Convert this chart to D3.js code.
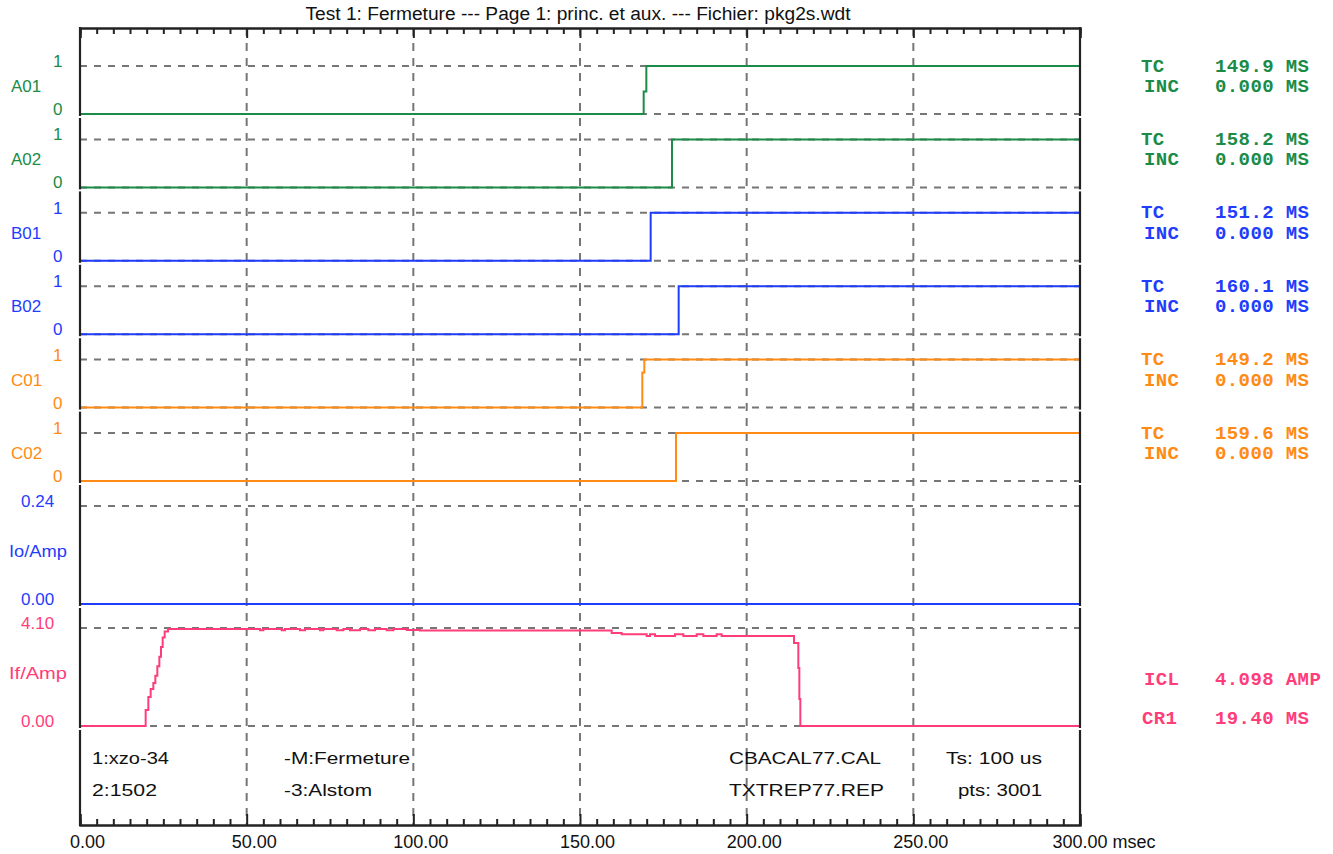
<!DOCTYPE html>
<html><head><meta charset="utf-8">
<script src="https://cdn.jsdelivr.net/npm/d3@7"></script>
<style>body{margin:0;background:#fff;} svg{display:block;}</style>
</head><body>
<svg id="chart" width="1333" height="854"></svg>
<script>
// ---------- data ----------
const titleText = "Test 1: Fermeture --- Page 1: princ. et aux. --- Fichier: pkg2s.wdt";
const xDomain = [0, 300];
const xMajorTicks = [0, 50, 100, 150, 200, 250, 300];
const xTickLabels = ["0.00", "50.00", "100.00", "150.00", "200.00", "250.00", "300.00 msec"];

const digitalNames = ["A01", "A02", "B01", "B02", "C01", "C02"];
const digitalLevelLabels = ["0", "1"];
const digitalTimes = [
  [0, 169.1, 169.9, 300],
  [0, 177.6, 300],
  [0, 171.2, 300],
  [0, 179.6, 300],
  [0, 168.7, 169.3, 300],
  [0, 178.8, 300]
];
const digitalValues = [
  [0, 0.47, 1, 1],
  [0, 1, 1],
  [0, 1, 1],
  [0, 1, 1],
  [0, 0.73, 1, 1],
  [0, 1, 1]
];
const tcValues = ["149.9", "158.2", "151.2", "160.1", "149.2", "159.6"];
const incValues = ["0.000", "0.000", "0.000", "0.000", "0.000", "0.000"];

const ioName = "Io/Amp";
const ioRange = [0, 0.24];
const ioRangeLabels = ["0.00", "0.24"];
const ioTimes = [0, 300];
const ioValues = [0, 0];

const ifName = "If/Amp";
const ifRange = [0, 4.10];
const ifRangeLabels = ["0.00", "4.10"];
const ifTimes = [0, 19.7, 20.5, 21.2, 22.0, 22.6, 23.2, 23.8, 24.3, 24.8, 25.4, 26.4,
  54, 55, 60.5, 61.5, 66, 67.5, 72, 73, 77, 79, 81, 84, 86.5, 88.5, 92, 94, 98, 102,
  159.5, 162.5, 170, 171, 172.5, 178.5, 181, 185, 187, 191, 192.5,
  214.2, 215.5, 215.8, 216.1, 300];
const ifValues = [0, 0.67, 1.21, 1.55, 1.80, 2.10, 2.50, 2.90, 3.30, 3.70, 3.95, 4.06,
  4.01, 4.06, 4.01, 4.06, 4.01, 4.06, 4.01, 4.06, 4.01, 4.06, 4.01, 4.06, 4.01, 4.06, 4.01, 4.06, 4.02, 4.00,
  3.89, 3.84, 3.77, 3.84, 3.77, 3.84, 3.77, 3.84, 3.77, 3.84, 3.77,
  3.47, 2.43, 1.13, 0, 0];
const sideLabels = [["ICL", "4.098 AMP"], ["CR1", "19.40 MS"]];

const footerLeft = [["1:xzo-34", "-M:Fermeture"], ["2:1502", "-3:Alstom"]];
const footerRight = [["CBACAL77.CAL", "Ts: 100 us"], ["TXTREP77.REP", "pts: 3001"]];

// ---------- styles / layout ----------
const GREEN = "#1a8c48", BLUE = "#1f3dfc", ORANGE = "#ff8a14", PINK = "#ff3d7a";
const digitalColors = [GREEN, GREEN, BLUE, BLUE, ORANGE, ORANGE];
const GRID = "#767676";
const L = 80, R = 1080, T = 28, B = 825;
const laneTop0 = 66, laneStep = 73.4, laneH = 48;
const sans = "'Liberation Sans', Arial, sans-serif";
const mono = "'Liberation Mono', 'Courier New', monospace";
const footerLeftW = [[77, 126], [65, 88]];
const footerRightW = [[152, 96], [155, 84]];

const svg = d3.select("#chart");
const x = d3.scaleLinear().domain(xDomain).range([L, R]);

const gridG = svg.append("g");
const dataG = svg.append("g");
const frameG = svg.append("g");
const textG = svg.append("g");

function hDash(y) {
  gridG.append("line").attr("x1", L).attr("x2", R).attr("y1", y).attr("y2", y)
    .attr("stroke", GRID).attr("stroke-width", 2).attr("stroke-dasharray", "7,7");
}
function monoText(xx, yy, s, c) {
  textG.append("text").attr("x", xx).attr("y", yy).text(s)
    .attr("fill", c).attr("font-family", mono).attr("font-size", 19)
    .attr("font-weight", "bold").attr("letter-spacing", 0.4);
}

// vertical grid
xMajorTicks.slice(1, -1).forEach(t => {
  gridG.append("line").attr("x1", x(t)).attr("x2", x(t)).attr("y1", T).attr("y2", B)
    .attr("stroke", GRID).attr("stroke-width", 2).attr("stroke-dasharray", "8,7");
});

const stepLine = d3.line().curve(d3.curveStepAfter);
const laneBounds = [T];

// digital lanes
digitalNames.forEach((name, i) => {
  const y1 = laneTop0 + i * laneStep, y0 = y1 + laneH;
  const y = d3.scaleLinear().domain([0, 1]).range([y0, y1]);
  hDash(y(1)); hDash(y(0));
  const pts = digitalTimes[i].map((t, k) => [x(t), y(digitalValues[i][k])]);
  dataG.append("path").attr("d", stepLine(pts)).attr("fill", "none")
    .attr("stroke", digitalColors[i]).attr("stroke-width", 2);
  const c = digitalColors[i];
  textG.append("text").attr("x", 11).attr("y", (y0 + y1) / 2 + 2).text(name)
    .attr("fill", c).attr("font-family", sans).attr("font-size", 17);
  textG.append("text").attr("x", 62.5).attr("y", y(1) + 1).text(digitalLevelLabels[1])
    .attr("text-anchor", "end").attr("fill", c).attr("font-family", sans).attr("font-size", 17);
  textG.append("text").attr("x", 62.5).attr("y", y(0) + 1).text(digitalLevelLabels[0])
    .attr("text-anchor", "end").attr("fill", c).attr("font-family", sans).attr("font-size", 17);
  monoText(1141, y1 + 5.5, "TC", c);
  monoText(1215, y1 + 5.5, tcValues[i] + " MS", c);
  monoText(1144, y1 + 26, "INC", c);
  monoText(1215, y1 + 26, incValues[i] + " MS", c);
  laneBounds.push(y0 + 3);
});

// analog lanes
function analog(name, range, labels, times, values, yTop, yBot, color) {
  const y = d3.scaleLinear().domain(range).range([yBot, yTop]);
  hDash(y(range[1])); hDash(y(range[0]));
  const pts = times.map((t, k) => [x(t), y(values[k])]);
  dataG.append("path").attr("d", stepLine(pts)).attr("fill", "none")
    .attr("stroke", color).attr("stroke-width", 2);
  textG.append("text").attr("x", 9).attr("y", (yTop + yBot) / 2 + 2).text(name)
    .attr("fill", color).attr("font-family", sans).attr("font-size", 17)
    .attr("textLength", 58).attr("lengthAdjust", "spacingAndGlyphs");
  textG.append("text").attr("x", 21).attr("y", y(range[1]) + 1).text(labels[1])
    .attr("fill", color).attr("font-family", sans).attr("font-size", 17);
  textG.append("text").attr("x", 21).attr("y", y(range[0]) + 1).text(labels[0])
    .attr("fill", color).attr("font-family", sans).attr("font-size", 17);
  return y;
}
analog(ioName, ioRange, ioRangeLabels, ioTimes, ioValues, 506, 604, BLUE);
laneBounds.push(607);
analog(ifName, ifRange, ifRangeLabels, ifTimes, ifValues, 628, 726, PINK);
laneBounds.push(729);
laneBounds.push(B);

sideLabels.forEach((s, k) => {
  const yb = k === 0 ? 685 : 724;
  monoText(k === 0 ? 1144 : 1142, yb, s[0], PINK);
  monoText(1215, yb, s[1], PINK);
});

// frame: left and right verticals with small breaks between lanes
for (let k = 0; k < laneBounds.length - 1; k++) {
  const a = laneBounds[k] + (k === 0 ? -1 : 1), b = laneBounds[k + 1] - (k === laneBounds.length - 2 ? -1 : 1);
  [L, R].forEach(xx => frameG.append("line").attr("x1", xx).attr("x2", xx).attr("y1", a).attr("y2", b)
    .attr("stroke", "#222").attr("stroke-width", 2.2));
}

// top axis (ticks inward)
const minorTicks = d3.range(0, 301, 5).filter(v => v % 50 !== 0);
const topMinor = d3.axisTop(x).tickValues(minorTicks).tickSize(-6).tickFormat("");
const topMajor = d3.axisTop(x).tickValues(xMajorTicks).tickSize(-10).tickFormat("");
[topMinor, topMajor].forEach(ax => {
  const g = frameG.append("g").attr("transform", `translate(0,${T})`).call(ax);
  g.selectAll("line").attr("stroke", "#222").attr("stroke-width", 2);
  g.select(".domain").attr("stroke", "#222").attr("stroke-width", 2.2);
});
// bottom axis
const botMinor = d3.axisBottom(x).tickValues(minorTicks).tickSize(-6).tickFormat("");
const botMajor = d3.axisBottom(x).tickValues(xMajorTicks).tickSize(-11).tickPadding(10)
  .tickFormat((d, i) => xTickLabels[i]);
frameG.append("g").attr("transform", `translate(0,${B})`).call(botMinor)
  .call(g => { g.selectAll("line").attr("stroke", "#222").attr("stroke-width", 2); g.select(".domain").attr("stroke", "#222").attr("stroke-width", 2.2); });
const bg = frameG.append("g").attr("transform", `translate(0,${B})`).call(botMajor);
bg.selectAll("line").attr("stroke", "#222").attr("stroke-width", 2);
bg.select(".domain").attr("stroke", "#222").attr("stroke-width", 2.2);
bg.selectAll("text").attr("font-family", sans).attr("font-size", 18).attr("fill", "#111")
  .attr("dx", (d, i) => i === xMajorTicks.length - 1 ? -28 : 7)
  .attr("text-anchor", (d, i) => i === xMajorTicks.length - 1 ? "start" : "middle");

// title
textG.append("text").attr("x", 578).attr("y", 20).attr("text-anchor", "middle")
  .attr("font-family", sans).attr("font-size", 18).attr("fill", "#111")
  .attr("textLength", 545).attr("lengthAdjust", "spacingAndGlyphs").text(titleText);

// footer
const rowY = [764, 796];
footerLeft.forEach((r, k) => {
  textG.append("text").attr("x", 92).attr("y", rowY[k]).text(r[0])
    .attr("font-family", sans).attr("font-size", 17).attr("fill", "#111")
    .attr("textLength", footerLeftW[k][0]).attr("lengthAdjust", "spacingAndGlyphs");
  textG.append("text").attr("x", 284).attr("y", rowY[k]).text(r[1])
    .attr("font-family", sans).attr("font-size", 17).attr("fill", "#111")
    .attr("textLength", footerLeftW[k][1]).attr("lengthAdjust", "spacingAndGlyphs");
});
footerRight.forEach((r, k) => {
  textG.append("text").attr("x", 729).attr("y", rowY[k]).text(r[0])
    .attr("font-family", sans).attr("font-size", 17).attr("fill", "#111")
    .attr("textLength", footerRightW[k][0]).attr("lengthAdjust", "spacingAndGlyphs");
  textG.append("text").attr("x", 1042 - footerRightW[k][1]).attr("y", rowY[k]).text(r[1])
    .attr("font-family", sans).attr("font-size", 17).attr("fill", "#111")
    .attr("textLength", footerRightW[k][1]).attr("lengthAdjust", "spacingAndGlyphs");
});
</script>
</body></html>
